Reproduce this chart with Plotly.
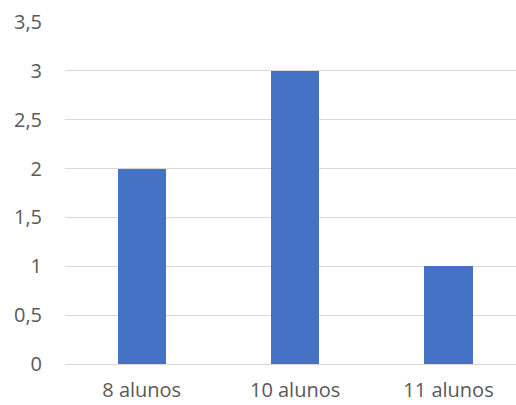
import plotly.graph_objects as go

categories = ["8 alunos", "10 alunos", "11 alunos"]
values = [2, 3, 1]

fig = go.Figure(go.Bar(x=categories, y=values, marker_color="#4472C4", width=0.315,
                       marker_line_width=0))
fig.update_layout(
    width=516, height=405,
    margin=dict(l=65, r=0, t=22, b=41),
    paper_bgcolor="white", plot_bgcolor="white",
    separators=",.",
    font=dict(family="Open Sans", size=20, color="#595959"),
    showlegend=False,
    bargap=0,
)
fig.update_xaxes(range=[-0.5, 2.44], showgrid=False, showline=False, ticks="",
                 ticklabelstandoff=12, automargin=False)
fig.update_yaxes(range=[0, 3.5], dtick=0.5, showgrid=True, gridcolor="#D9D9D9", gridwidth=1,
                 zeroline=True, zerolinecolor="#D9D9D9", zerolinewidth=1,
                 showline=False, ticks="", ticklabelstandoff=22, automargin=False)
fig.write_html("out.html")
